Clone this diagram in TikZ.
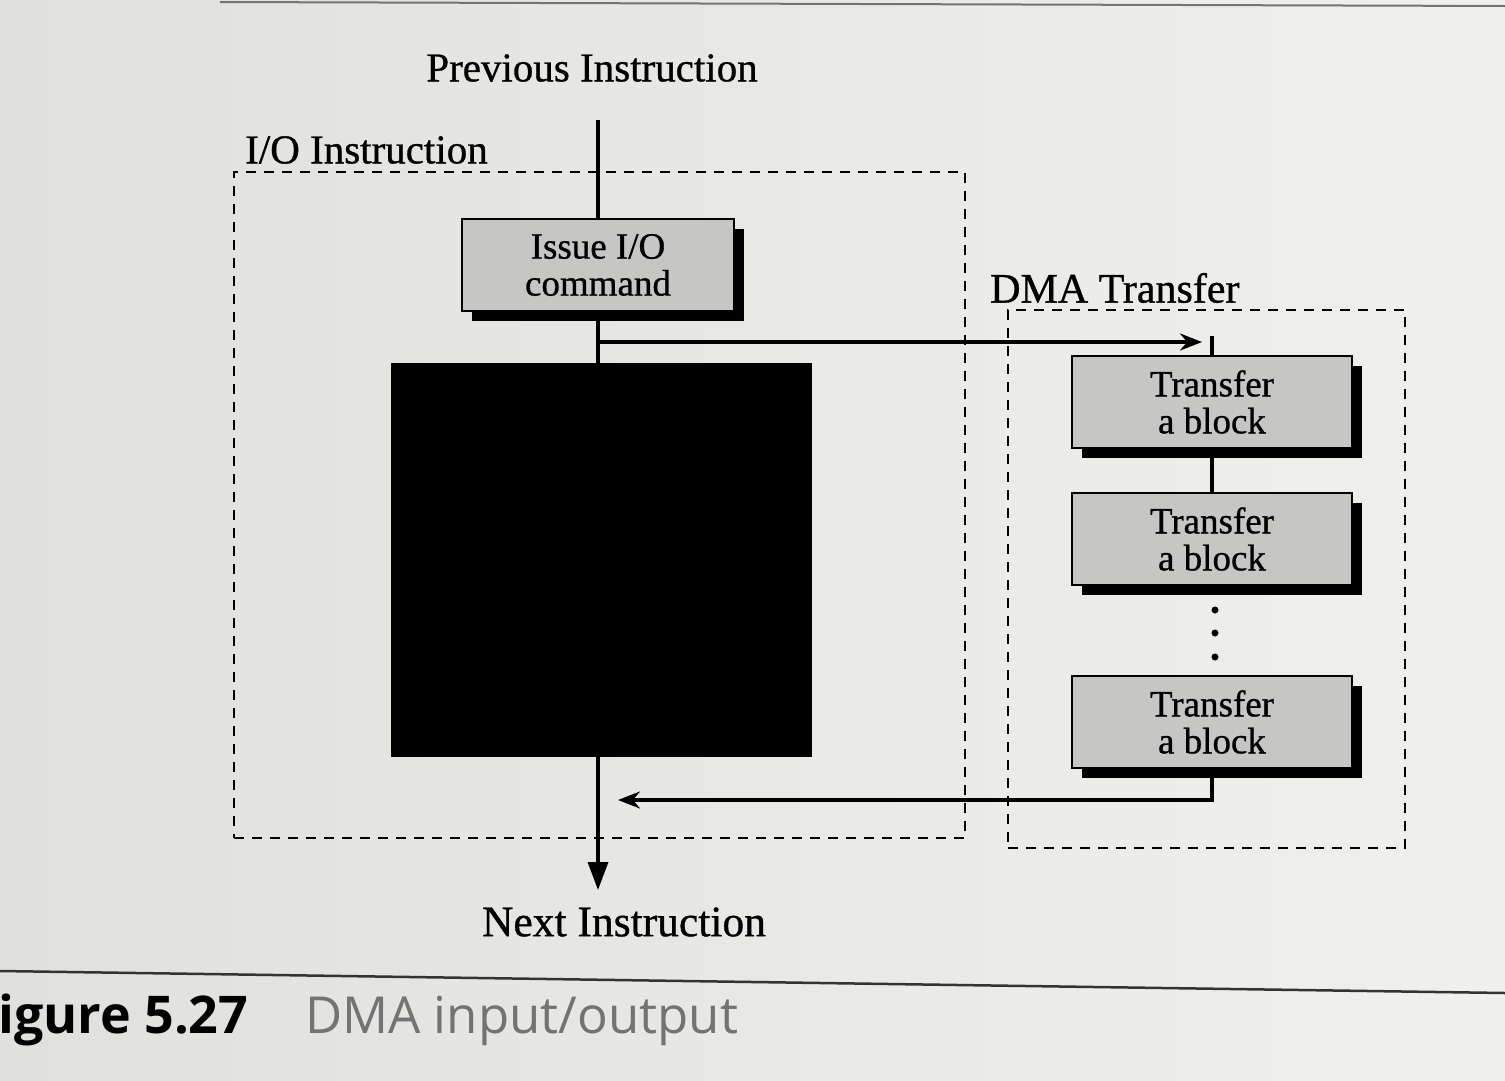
\documentclass[tikz,border=0pt]{standalone}
\usepackage{fontspec}
\setmainfont[FakeBold=0.8]{Liberation Serif}
\newfontfamily\capfont{Open Sans}
\usetikzlibrary{shadows,arrows.meta}
\definecolor{pagebg}{RGB}{240,240,237}
\definecolor{pageleft}{RGB}{224,224,221}
\definecolor{boxgray}{RGB}{198,198,196}
\begin{document}
\begin{tikzpicture}[x=1pt,y=-1pt,
  every node/.style={inner sep=0pt},
  lbl/.style={font=\fontsize{41}{45}\selectfont},
  procbox/.style={draw=black, line width=2pt, fill=boxgray,
    minimum width=272pt, minimum height=92pt, align=center,
    font=\fontsize{37}{37}\selectfont,
    general shadow={fill=black, shadow xshift=10pt, shadow yshift=-10pt}},
  flow/.style={line width=3.5pt},
  dashbox/.style={draw, line width=1.8pt, dash pattern=on 10pt off 8pt},
  htip/.style={-{Stealth[length=22pt,width=17pt]}},
  vtip/.style={-{Triangle[length=28pt,width=20pt]}},
  dotnode/.style={circle, fill=black, minimum size=7pt}]
  % page
  \shade[left color=pageleft, right color=pagebg] (0,0) rectangle (1505,1080);
  \useasboundingbox (0,0) rectangle (1505,1080);
  \draw[black!55, line width=2pt] (220,2) -- (1505,6);
  % labels
  \node[lbl] (prev) at (592,68) {Previous Instruction};
  \node[lbl, anchor=west] (iolbl) at (245,150) {I/O Instruction};
  \node[lbl, anchor=west, font=\fontsize{42}{46}\selectfont] (dmalbl) at (990,288) {DMA Transfer};
  \node[lbl, font=\fontsize{43.5}{46}\selectfont] (next) at (624,922) {Next Instruction};
  % dashed groups
  \node[dashbox, minimum width=731pt, minimum height=666pt] (iobox) at (599.5,505) {};
  \node[dashbox, minimum width=397pt, minimum height=538pt] (dmabox) at (1206.5,579) {};
  % blocks
  \coordinate (top) at (598,120);
  \node[procbox] (issue) at (598,265) {Issue I/O\\command};
  \node[fill=black, minimum width=421pt, minimum height=394pt] (blk) at (601.5,560) {};
  \node[procbox, minimum width=280pt] (t1) at (1212,402) {Transfer\\a block};
  \node[procbox, minimum width=280pt] (t2) at (1212,539) {Transfer\\a block};
  \node[procbox, minimum width=280pt] (t3) at (1212,722) {Transfer\\a block};
  \node[dotnode] (d1) at (1215,610) {};
  \node[dotnode] (d2) at (1215,633) {};
  \node[dotnode] (d3) at (1215,657) {};
  % connectors
  \coordinate (br) at (598,342);
  \coordinate (stub) at (1212,336);
  \coordinate (ret) at (618,800);
  \coordinate (nexttip) at (598,890);
  \draw[flow] (top) -- (issue.north);
  \draw[flow] (issue.south) -- (issue.south |- blk.north);
  \draw[flow, htip, shorten >=10pt] (br) -- (br -| stub);
  \draw[flow] (stub) -- (t1.north);
  \draw[flow] (t1.south) -- (t2.north);
  \draw[flow, htip] (t3.south) |- (ret);
  \draw[flow, vtip] (issue.south |- blk.south) -- (nexttip);
  % caption
  \draw[black!80, line width=2.5pt] (0,971) -- (1505,993);
  \node[anchor=base west, font=\capfont\bfseries\fontsize{52}{54}\selectfont] (fig) at (-2,1033) {igure 5.27};
  \node[anchor=base west, text=black!55, font=\capfont\fontsize{51}{53}\selectfont] (cap) at (305,1033) {DMA input/output};
\end{tikzpicture}
\end{document}
